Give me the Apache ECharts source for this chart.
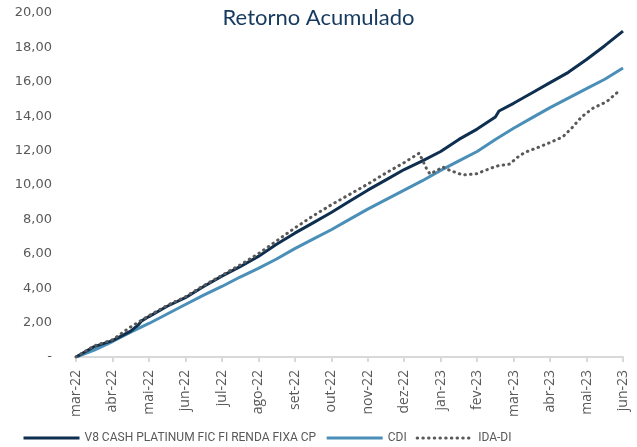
<!DOCTYPE html>
<html>
<head>
<meta charset="utf-8">
<script src="https://cdn.jsdelivr.net/npm/echarts@6/dist/echarts.min.js"></script>
<style>html,body{margin:0;padding:0;background:#fff}#c{width:637px;height:447px}</style>
</head>
<body>
<div id="c"></div>
<script>
const monthLabels = ['mar-22','abr-22','mai-22','jun-22','jul-22','ago-22','set-22','out-22','nov-22','dez-22','jan-23','fev-23','mar-23','abr-23','mai-23','jun-23'];
const seriesNames = ['V8 CASH PLATINUM FIC FI RENDA FIXA CP','CDI','IDA-DI'];

const v8X = [0,0.5,1,1.5,1.7,1.8,2,2.5,3,3.5,4,4.5,5,5.5,6,6.5,7,7.5,8,8.5,9,9.5,10,10.5,11,11.5,11.6,12,12.5,13,13.5,14,14.5,15];
const v8Y = [0,0.6,0.95,1.5,1.85,2.1,2.35,2.95,3.45,4.1,4.7,5.25,5.85,6.55,7.2,7.8,8.4,9.05,9.7,10.3,10.9,11.4,11.95,12.65,13.25,13.95,14.3,14.75,15.35,15.95,16.55,17.3,18.1,18.95];

const cdiX = [0,0.5,1,1.5,2,2.5,3,3.5,4,4.5,5,5.5,6,6.5,7,7.5,8,8.5,9,9.5,10,10.5,11,11.5,12,12.5,13,13.5,14,14.5,15];
const cdiY = [0,0.4,0.9,1.45,1.95,2.5,3.05,3.6,4.1,4.65,5.15,5.7,6.3,6.85,7.4,8.0,8.6,9.15,9.7,10.25,10.85,11.4,11.95,12.65,13.3,13.9,14.5,15.05,15.6,16.15,16.8];

const idaX = [0,0.5,1,1.5,2,2.5,3,3.5,4,4.5,5,5.5,6,6.5,7,7.5,8,8.5,9,9.41,9.49,9.63,9.71,9.9,10.06,10.25,10.61,10.98,11.53,11.9,12.08,12.31,12.63,12.99,13.35,13.59,13.87,14.18,14.55,14.92];
const idaY = [0,0.65,1.0,1.75,2.4,3.0,3.5,4.15,4.75,5.35,6.0,6.75,7.5,8.2,8.85,9.45,10.05,10.7,11.3,11.85,11.5,10.87,10.64,10.85,11.05,10.85,10.58,10.65,11.1,11.22,11.57,11.9,12.15,12.46,12.8,13.3,13.97,14.47,14.84,15.52];

const pairs = (xs, ys) => xs.map((x, i) => [x, ys[i]]);
const txt = '#595959';

const chart = echarts.init(document.getElementById('c'), null, {renderer: 'canvas'});
chart.setOption({
  animation: false,
  backgroundColor: '#fff',
  title: {
    text: 'Retorno Acumulado',
    left: 'center',
    top: 2,
    textStyle: {color: '#163a5f', fontSize: 22, fontWeight: 'normal', fontFamily: 'Lato, sans-serif'}
  },
  grid: {left: 76, right: 14, top: 13, bottom: 90, containLabel: false},
  xAxis: {
    type: 'value',
    min: 0, max: 15, interval: 1,
    axisLine: {lineStyle: {color: '#d9d9d9', width: 2}},
    axisTick: {show: true, length: 5, lineStyle: {color: '#d9d9d9', width: 2}},
    splitLine: {show: false},
    axisLabel: {
      rotate: 90, margin: 13, color: txt, fontSize: 14, fontFamily: '"Open Sans", sans-serif',
      formatter: v => monthLabels[Math.round(v)] || ''
    }
  },
  yAxis: {
    type: 'value',
    min: 0, max: 20, interval: 2,
    axisLine: {show: false},
    axisTick: {show: false},
    splitLine: {show: false},
    axisLabel: {
      margin: 24, color: txt, fontSize: 13, fontFamily: '"DejaVu Sans", sans-serif',
      formatter: v => v === 0 ? '-' : v.toFixed(2).replace('.', ',')
    }
  },
  legend: {
    bottom: 3, left: 22, padding: 0,
    itemWidth: 56, itemHeight: 12, itemGap: 9,
    itemStyle: {color: 'transparent', borderWidth: 0},
    lineStyle: {width: 3},
    textStyle: {color: txt, fontSize: 12, fontFamily: 'Roboto, sans-serif'},
    data: seriesNames
  },
  series: [
    {
      name: seriesNames[0], type: 'line', showSymbol: false, symbol: 'none',
      data: pairs(v8X, v8Y),
      lineStyle: {color: '#0e2f4f', width: 3}, itemStyle: {color: '#0e2f4f'}, z: 3
    },
    {
      name: seriesNames[1], type: 'line', showSymbol: false, symbol: 'none',
      data: pairs(cdiX, cdiY),
      lineStyle: {color: '#4a8fb8', width: 3}, itemStyle: {color: '#4a8fb8'}, z: 2
    },
    {
      name: seriesNames[2], type: 'line', showSymbol: false, symbol: 'none',
      data: pairs(idaX, idaY),
      lineStyle: {color: '#595959', width: 3, type: [0.5, 5.2], cap: 'round'},
      itemStyle: {color: '#595959'}, z: 4
    }
  ]
});
</script>
</body>
</html>
